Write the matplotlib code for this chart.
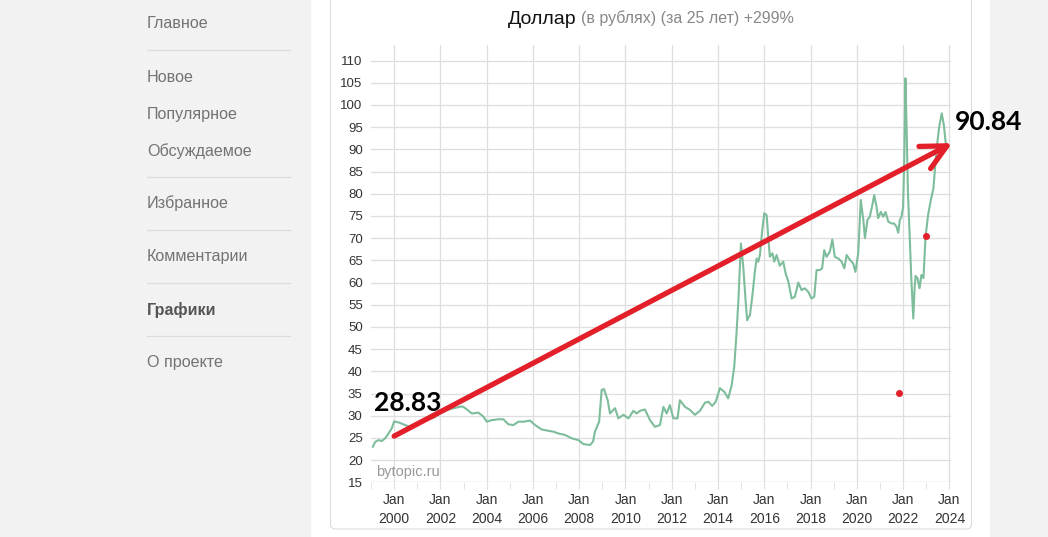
import matplotlib
matplotlib.use("Agg")
import matplotlib.pyplot as plt
from matplotlib.patches import Rectangle, FancyBboxPatch
from matplotlib.lines import Line2D

# USD/RUB (decimal year, rate)
years = [1999.08, 1999.18, 1999.33, 1999.47, 1999.61, 1999.76, 1999.90,
         2000.00, 2000.19, 2000.40, 2000.62, 2000.85, 2001.10, 2001.40, 2001.70,
         2002.00, 2002.25, 2002.50, 2002.75, 2002.95, 2003.07, 2003.36, 2003.64,
         2003.86, 2004.00, 2004.22, 2004.51, 2004.72, 2004.94, 2005.16, 2005.37,
         2005.59, 2005.88, 2006.09, 2006.38, 2006.67, 2006.89, 2007.10, 2007.39,
         2007.68, 2007.97, 2008.18, 2008.47, 2008.60, 2008.68, 2008.86, 2008.97,
         2009.07, 2009.23, 2009.33, 2009.55, 2009.69, 2009.91, 2010.13, 2010.34,
         2010.48, 2010.63, 2010.84, 2011.06, 2011.27, 2011.49, 2011.64, 2011.78,
         2011.92, 2012.07, 2012.25, 2012.35, 2012.57, 2012.79, 2013.00, 2013.22,
         2013.43, 2013.58, 2013.75, 2013.90, 2014.08, 2014.27, 2014.44, 2014.59,
         2014.70, 2014.80, 2014.88, 2014.99, 2015.09, 2015.19, 2015.26, 2015.38,
         2015.48, 2015.60, 2015.67, 2015.74, 2015.81, 2015.91, 2016.00, 2016.10,
         2016.17, 2016.24, 2016.35, 2016.43, 2016.53, 2016.67, 2016.82, 2016.92,
         2017.04, 2017.18, 2017.32, 2017.47, 2017.61, 2017.75, 2017.90, 2018.04,
         2018.16, 2018.26, 2018.40, 2018.50, 2018.59, 2018.69, 2018.83, 2018.94,
         2019.05, 2019.20, 2019.34, 2019.46, 2019.56, 2019.70, 2019.84, 2019.94,
         2020.06, 2020.17, 2020.28, 2020.35, 2020.46, 2020.56, 2020.67, 2020.75,
         2020.85, 2020.92, 2021.04, 2021.14, 2021.24, 2021.36, 2021.50, 2021.61,
         2021.71, 2021.79, 2021.86, 2021.93, 2022.00, 2022.05, 2022.10, 2022.15,
         2022.21, 2022.28, 2022.35, 2022.44, 2022.50, 2022.54, 2022.62, 2022.71,
         2022.79, 2022.88, 2022.97, 2023.08, 2023.20, 2023.31, 2023.37, 2023.44,
         2023.56, 2023.67, 2023.76, 2023.85]
rates = [23.0, 24.1, 24.5, 24.3, 24.9, 26.0, 27.2,
         28.7, 28.5, 28.05, 27.6, 27.9, 28.6, 29.2, 29.5,
         30.6, 31.2, 31.6, 31.9, 32.1, 31.7, 30.5, 30.7,
         29.8, 28.65, 29.0, 29.2, 29.2, 28.05, 27.9, 28.65,
         28.65, 28.9, 27.9, 26.9, 26.6, 26.4, 26.0, 25.65,
         24.9, 24.5, 23.6, 23.4, 24.2, 26.4, 28.65, 35.8,
         36.0, 33.5, 30.5, 31.7, 29.4, 30.2, 29.4, 31.1,
         30.5, 31.1, 31.4, 29.0, 27.5, 27.9, 32.0, 30.5,
         32.4, 29.4, 29.4, 33.5, 32.0, 31.3, 30.2, 31.1,
         32.9, 33.15, 32.2, 33.15, 36.2, 35.4, 33.9, 36.9,
         41.0, 48.6, 56.0, 68.8, 63.6, 56.0, 51.5, 52.7,
         56.8, 62.8, 65.4, 64.7, 66.2, 71.8, 75.6, 75.2,
         70.3, 65.8, 66.6, 64.7, 66.2, 63.8, 64.7, 62.1,
         60.2, 56.4, 56.8, 60.0, 58.3, 58.7, 57.9, 56.4,
         56.8, 62.8, 62.8, 63.2, 67.3, 65.8, 66.9, 69.7,
         65.8, 65.4, 64.7, 63.2, 66.2, 65.1, 64.3, 62.4,
         66.6, 78.6, 74.1, 70.0, 74.1, 74.8, 77.45, 79.7,
         77.1, 74.5, 75.9, 74.8, 75.9, 73.7, 73.3, 73.3,
         72.6, 71.2, 74.1, 74.8, 77.1, 87.6, 106.0, 95.1,
         80.1, 71.1, 61.3, 51.9, 59.05, 61.5, 61.0, 58.7,
         61.7, 61.0, 70.3, 75.2, 78.6, 81.2, 85.3, 89.8,
         95.1, 98.1, 95.5, 91.0]

tick_years = list(range(2000, 2025, 2))
tick_labels = [f"Jan\n{y}" for y in tick_years]
y_ticks = list(range(15, 111, 5))

menu_items = ["Главное", "Новое", "Популярное", "Обсуждаемое", "Избранное",
              "Комментарии", "Графики", "О проекте"]
menu_y = [23, 77, 114, 151, 203, 257, 310, 363]
menu_sep_y = [50, 177, 230, 283, 336]

# hand-drawn marks (data coords)
arrow_start = (2000.0, 25.4)
arrow_end = (2024.12, 91.4)
start_label, end_label = "28.83", "90.84"
red_dots = [(2022.98, 70.5), (2021.83, 35.1)]

W, H = 1048, 537
fig = plt.figure(figsize=(W / 100, H / 100), dpi=100)
fig.patch.set_facecolor("white")


def fx(x):
    return x / W


def fy(y):
    return 1 - y / H


# page background and card
fig.patches.append(Rectangle((0, 0), fx(310), 1, transform=fig.transFigure,
                             color="#f2f2f2", zorder=-10))
fig.patches.append(Rectangle((fx(990), 0), 1 - fx(990), 1, transform=fig.transFigure,
                             color="#f2f2f2", zorder=-10))
fig.patches.append(FancyBboxPatch((330.5, 537 - 529), 641, 560,
                                  boxstyle="round,pad=0,rounding_size=5",
                                  transform=None, fc="white", ec="#dcdcdc",
                                  lw=0.8, zorder=-9))

# sidebar menu
for name, y in zip(menu_items, menu_y):
    bold = name == "Графики"
    fig.text(fx(147), fy(y), name, fontsize=11.6, family="Liberation Sans",
             color="#555555" if bold else "#737373",
             weight="bold" if bold else "normal", va="center", ha="left")
for y in menu_sep_y:
    fig.add_artist(Line2D([fx(147), fx(290)], [fy(y), fy(y)], color="#dddddd",
                          lw=0.9, transform=fig.transFigure))

# title
fig.text(fx(508), fy(24), "Доллар", fontsize=14, family="Liberation Sans",
         color="#111111", va="baseline", ha="left")
fig.text(fx(581), fy(23.5), "(в рублях) (за 25 лет) +299%", fontsize=11.5,
         family="Liberation Sans", color="#888888", va="baseline", ha="left")

ax = fig.add_axes([fx(371), 1 - 482.3 / H, fx(951) - fx(371), (482.3 - 45) / H])
ax.set_facecolor("none")
ax.plot(years, rates, color="#7dbd9b", lw=1.5, zorder=3)

ax.set_xlim(1999.08, 2024.07)
ax.set_ylim(15, 113.5)
ax.set_yticks(y_ticks)
ax.set_xticks(tick_years)
ax.set_xticklabels(tick_labels, linespacing=1.45)
ax.set_xticks(range(1999, 2024, 2), minor=True)
ax.grid(True, which="major", color="#dedede", lw=0.9)
ax.grid(False, which="minor")
for s in ax.spines.values():
    s.set_visible(False)
ax.tick_params(axis="y", length=0, pad=6, labelsize=9.5, labelcolor="#333333")
ax.tick_params(axis="x", which="major", length=5, color="#dedede", pad=3,
               labelsize=10, labelcolor="#333333")
ax.tick_params(axis="x", which="minor", length=5, color="#dedede")
for lab in ax.get_xticklabels() + ax.get_yticklabels():
    lab.set_family("Liberation Sans")
# extend the bottom gridline
ax.axhline(15, color="#dedede", lw=0.9, zorder=1)

ax.text(1999.2, 17.4, "bytopic.ru", fontsize=10.5, family="Liberation Sans",
        color="#9a9a9a", va="center", ha="left")

# red annotations
ax.annotate("", xy=arrow_end, xytext=arrow_start, annotation_clip=False,
            arrowprops=dict(arrowstyle="->,head_length=0.9,head_width=0.45",
                            color="#e3202a", lw=3.8, mutation_scale=20,
                            shrinkA=0, shrinkB=0), zorder=5)
ax.text(1999.15, 32.9, start_label, fontsize=19, family="Lato", weight="bold",
        color="black", va="center", ha="left", zorder=6)
ax.text(2024.25, 96.2, end_label, fontsize=19, family="Lato", weight="bold",
        color="black", va="center", ha="left", zorder=6, clip_on=False)
for dx, dy in red_dots:
    ax.plot(dx, dy, "o", color="#e3202a", ms=4, zorder=6)

fig.savefig("out.png", dpi=100)
